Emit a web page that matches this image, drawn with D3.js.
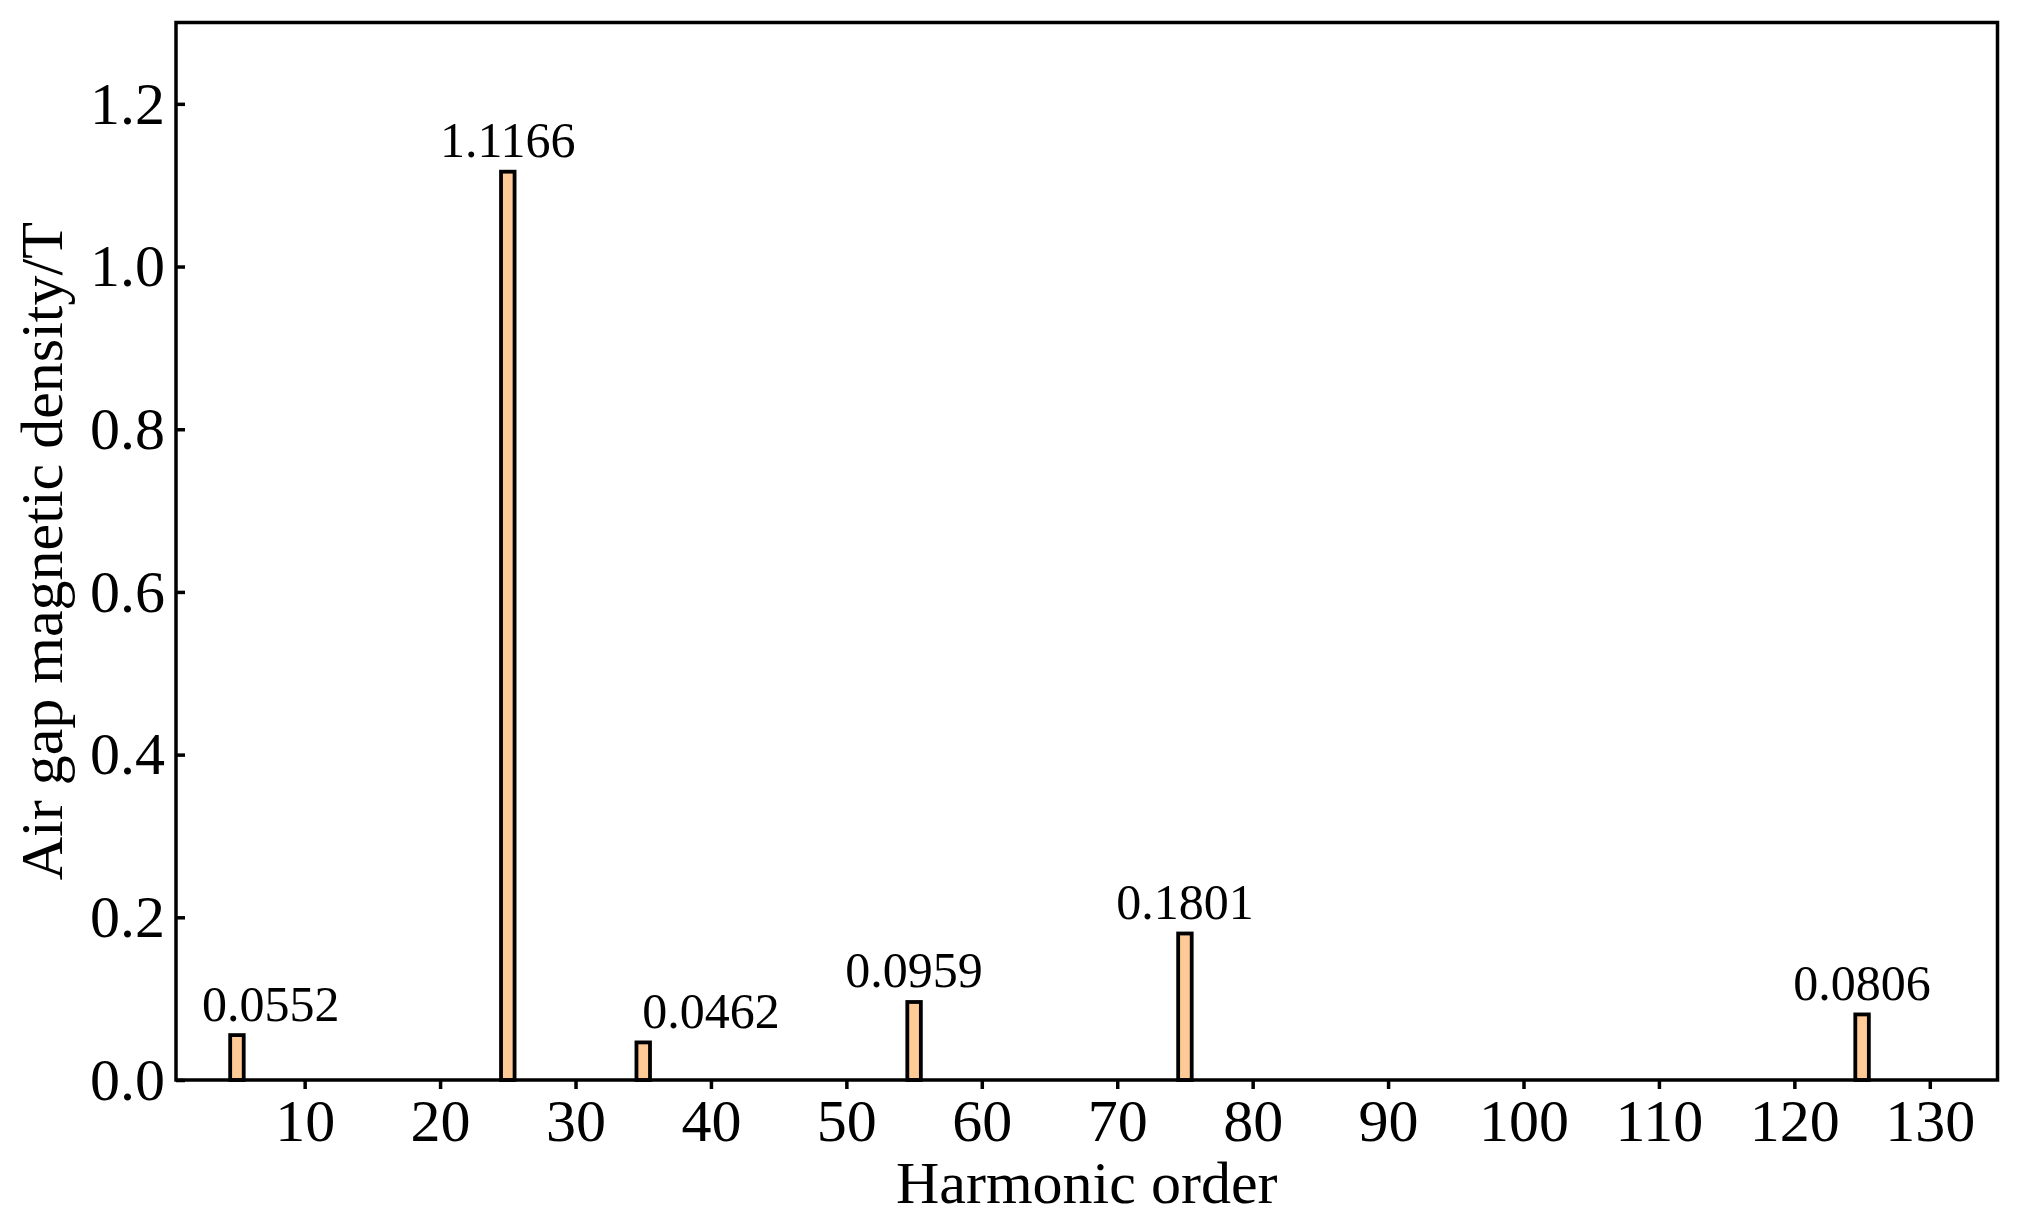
<!DOCTYPE html>
<html>
<head>
<meta charset="utf-8">
<script src="https://cdn.jsdelivr.net/npm/d3@7"></script>
<style>
  html, body { margin: 0; padding: 0; background: #ffffff; }
  svg { display: block; }
  text { font-family: "Liberation Serif", "Times New Roman", serif; fill: #000; }
</style>
</head>
<body>
<svg id="chart" width="2020" height="1223"></svg>
<script>
// ---- data ----
const harmonicOrders = [5, 25, 35, 55, 75, 125];
const amplitudes = [0.0552, 1.1166, 0.0462, 0.0959, 0.1801, 0.0806];
const labelTexts = ["0.0552", "1.1166", "0.0462", "0.0959", "0.1801", "0.0806"];
const labelPositions = [7.5, 25, 40, 55, 75, 125];
const xTickValues = [10, 20, 30, 40, 50, 60, 70, 80, 90, 100, 110, 120, 130];
const yTickValues = [0.0, 0.2, 0.4, 0.6, 0.8, 1.0, 1.2];
const xDomain = [0.5, 135];
const yDomain = [0, 1.3];
const barWidthUnits = 1.0;

// ---- layout ----
const margin = { left: 176, right: 2020 - 1997.5, top: 22.5, bottom: 1223 - 1080 };
const W = 2020, H = 1223;
const svg = d3.select("#chart");

const x = d3.scaleLinear().domain(xDomain).range([margin.left, W - margin.right]);
const y = d3.scaleLinear().domain(yDomain).range([H - margin.bottom, margin.top]);

const lineW = 3.5;
const barFill = "#ffca96";

// bars
const bw = x(barWidthUnits) - x(0);
svg.append("g").selectAll("rect")
  .data(harmonicOrders)
  .join("rect")
  .attr("x", (d) => x(d) - bw / 2)
  .attr("y", (d, i) => y(amplitudes[i]))
  .attr("width", bw)
  .attr("height", (d, i) => y(0) - y(amplitudes[i]))
  .attr("fill", barFill)
  .attr("stroke", "#000")
  .attr("stroke-width", 3.8);

// bar value labels
svg.append("g").selectAll("text")
  .data(labelTexts)
  .join("text")
  .attr("x", (d, i) => x(labelPositions[i]))
  .attr("y", (d, i) => y(amplitudes[i]) - 14.5)
  .attr("text-anchor", "middle")
  .attr("font-size", 50)
  .text((d) => d);

// x axis (ticks outward)
const xAxis = d3.axisBottom(x).tickValues(xTickValues).tickSize(9).tickPadding(8)
  .tickFormat(d3.format("d"));
const gx = svg.append("g").attr("transform", `translate(0,${H - margin.bottom})`).call(xAxis);
gx.select(".domain").remove();
gx.selectAll(".tick line").attr("stroke", "#000").attr("stroke-width", lineW);
gx.selectAll(".tick text").attr("font-size", 60).attr("font-family", "Liberation Serif")
  .attr("dy", null).attr("y", 61).attr("dominant-baseline", "alphabetic");

// y axis (ticks inward)
const yAxis = d3.axisLeft(y).tickValues(yTickValues).tickSize(-9).tickPadding(0)
  .tickFormat(d3.format(".1f"));
const gy = svg.append("g").attr("transform", `translate(${margin.left},0)`).call(yAxis);
gy.select(".domain").remove();
gy.selectAll(".tick line").attr("stroke", "#000").attr("stroke-width", lineW);
gy.selectAll(".tick text").attr("font-size", 60).attr("font-family", "Liberation Serif")
  .attr("x", -11).attr("dy", "0.32em");

// frame
svg.append("rect")
  .attr("x", margin.left).attr("y", margin.top)
  .attr("width", W - margin.right - margin.left)
  .attr("height", H - margin.bottom - margin.top)
  .attr("fill", "none").attr("stroke", "#000").attr("stroke-width", lineW);

// axis titles
svg.append("text")
  .attr("x", (margin.left + W - margin.right) / 2)
  .attr("y", 1203)
  .attr("text-anchor", "middle")
  .attr("font-size", 60)
  .text("Harmonic order");

svg.append("text")
  .attr("transform", `translate(62,${(margin.top + H - margin.bottom) / 2}) rotate(-90)`)
  .attr("text-anchor", "middle")
  .attr("font-size", 60)
  .text("Air gap magnetic density/T");
</script>
</body>
</html>
